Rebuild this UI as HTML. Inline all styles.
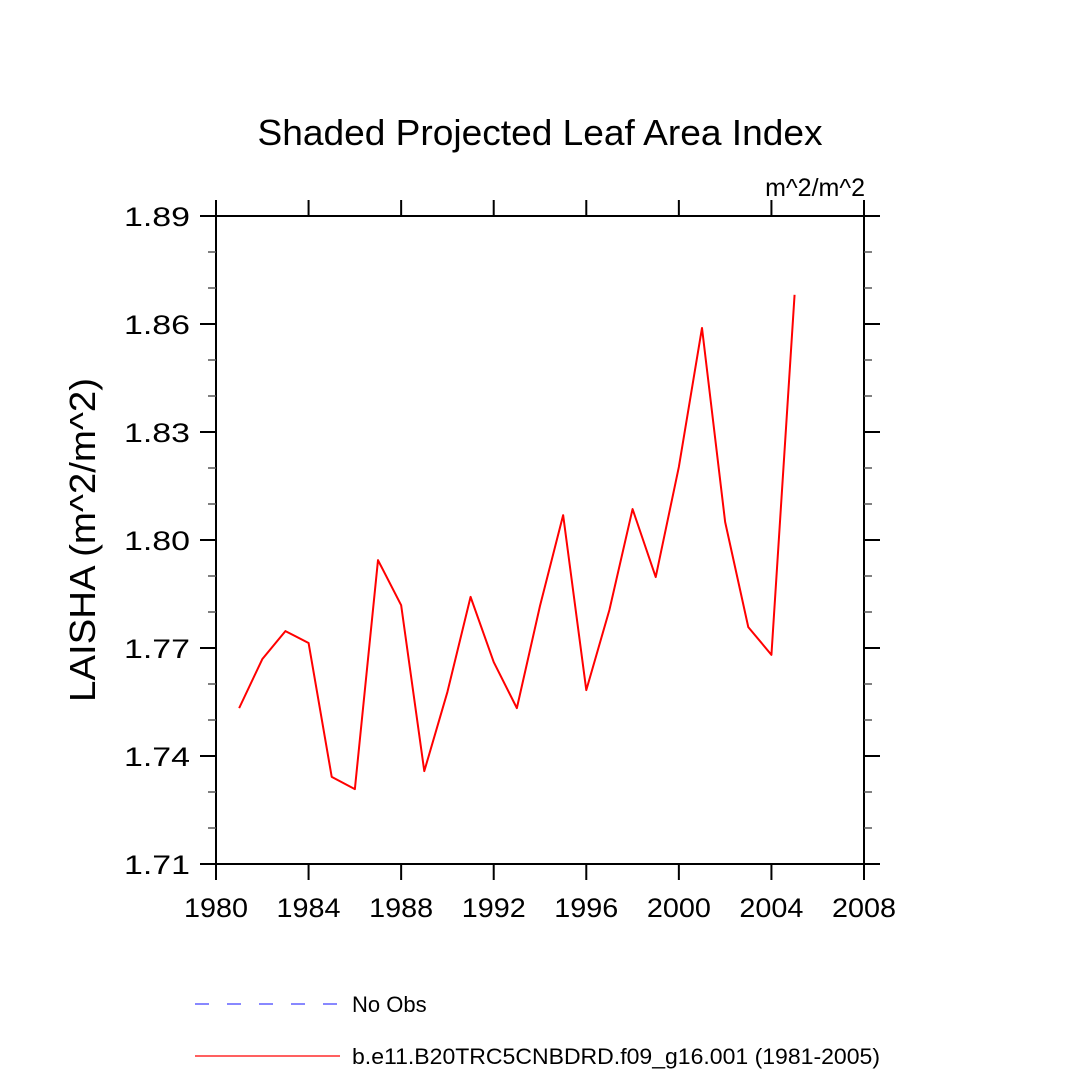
<!DOCTYPE html>
<html><head><meta charset="utf-8"><style>
body{margin:0;background:#fff}
svg text{font-family:"Liberation Sans",sans-serif;fill:#000}
</style></head><body>
<svg width="1080" height="1080" viewBox="0 0 1080 1080">
<text x="540" y="145" font-size="36" textLength="565" lengthAdjust="spacingAndGlyphs" text-anchor="middle">Shaded Projected Leaf Area Index</text>
<text x="865" y="196" font-size="25" text-anchor="end">m^2/m^2</text>
<text transform="translate(95,540) rotate(-90)" font-size="36" text-anchor="middle" textLength="324" lengthAdjust="spacingAndGlyphs">LAISHA  (m^2/m^2)</text>
<g id="axes"></g>
<g id="series"></g>
<g>
<line x1="195" y1="1004" x2="340" y2="1004" stroke="#4040ff" stroke-width="1.2" stroke-dasharray="14,18"/>
<text x="352" y="1012" font-size="22">No Obs</text>
<line x1="195" y1="1056" x2="340" y2="1056" stroke="#ff0000" stroke-width="1.2"/>
<text x="352" y="1064" font-size="22" textLength="528" lengthAdjust="spacingAndGlyphs">b.e11.B20TRC5CNBDRD.f09_g16.001 (1981-2005)</text>
</g>
</svg>
<script>
const years=[1981,1982,1983,1984,1985,1986,1987,1988,1989,1990,1991,1992,1993,1994,1995,1996,1997,1998,1999,2000,2001,2002,2003,2004,2005];
const values=[1.7533,1.7669,1.7747,1.7714,1.7342,1.7308,1.7944,1.7819,1.7358,1.7578,1.7842,1.7661,1.7533,1.7817,1.8069,1.7583,1.7806,1.8086,1.7897,1.8203,1.8589,1.8050,1.7758,1.7681,1.8681];
const xTicks=[1980,1984,1988,1992,1996,2000,2004,2008];
const yTicks=[1.71,1.74,1.77,1.80,1.83,1.86,1.89];
const yMinor=[1.72,1.73,1.75,1.76,1.78,1.79,1.81,1.82,1.84,1.85,1.87,1.88];
const L=216,R=864,T=216,B=864,x0=1980,x1=2008,y0=1.71,y1=1.89;
const X=v=>L+(v-x0)/(x1-x0)*(R-L);
const Y=v=>B-(v-y0)/(y1-y0)*(B-T);
const NS="http://www.w3.org/2000/svg";
const ax=document.getElementById('axes'),se=document.getElementById('series');
function mk(p,tag,at){const e=document.createElementNS(NS,tag);for(const k in at)e.setAttribute(k,at[k]);p.appendChild(e);return e;}
const fr=mk(ax,'rect',{x:L,y:T,width:R-L,height:B-T,fill:'none',stroke:'#000','stroke-width':2});


xTicks.forEach(t=>{const x=X(t);
mk(ax,'line',{x1:x,y1:B,x2:x,y2:B+16,stroke:'#000','stroke-width':2});
mk(ax,'line',{x1:x,y1:T,x2:x,y2:T-16,stroke:'#000','stroke-width':2});
const tx=mk(ax,'text',{x:x,y:B+53,'font-size':27,'text-anchor':'middle',textLength:64,lengthAdjust:'spacingAndGlyphs'});tx.textContent=t;

});
yTicks.forEach(t=>{const y=Y(t);
mk(ax,'line',{x1:L,y1:y,x2:L-16,y2:y,stroke:'#000','stroke-width':2});
mk(ax,'line',{x1:R,y1:y,x2:R+16,y2:y,stroke:'#000','stroke-width':2});
const tx=mk(ax,'text',{x:190,y:y+10,'font-size':27,'text-anchor':'end',textLength:66,lengthAdjust:'spacingAndGlyphs'});tx.textContent=t.toFixed(2);

});
yMinor.forEach(t=>{const y=Y(t);
mk(ax,'line',{x1:L,y1:y,x2:L-8,y2:y,stroke:'#555','stroke-width':1.5});
mk(ax,'line',{x1:R,y1:y,x2:R+8,y2:y,stroke:'#555','stroke-width':1.5});});
const ln=mk(se,'polyline',{points:years.map((yr,i)=>X(yr)+','+Y(values[i])).join(' '),fill:'none',stroke:'#ff0000','stroke-width':2,'stroke-linejoin':'round'});


</script>
</body></html>
